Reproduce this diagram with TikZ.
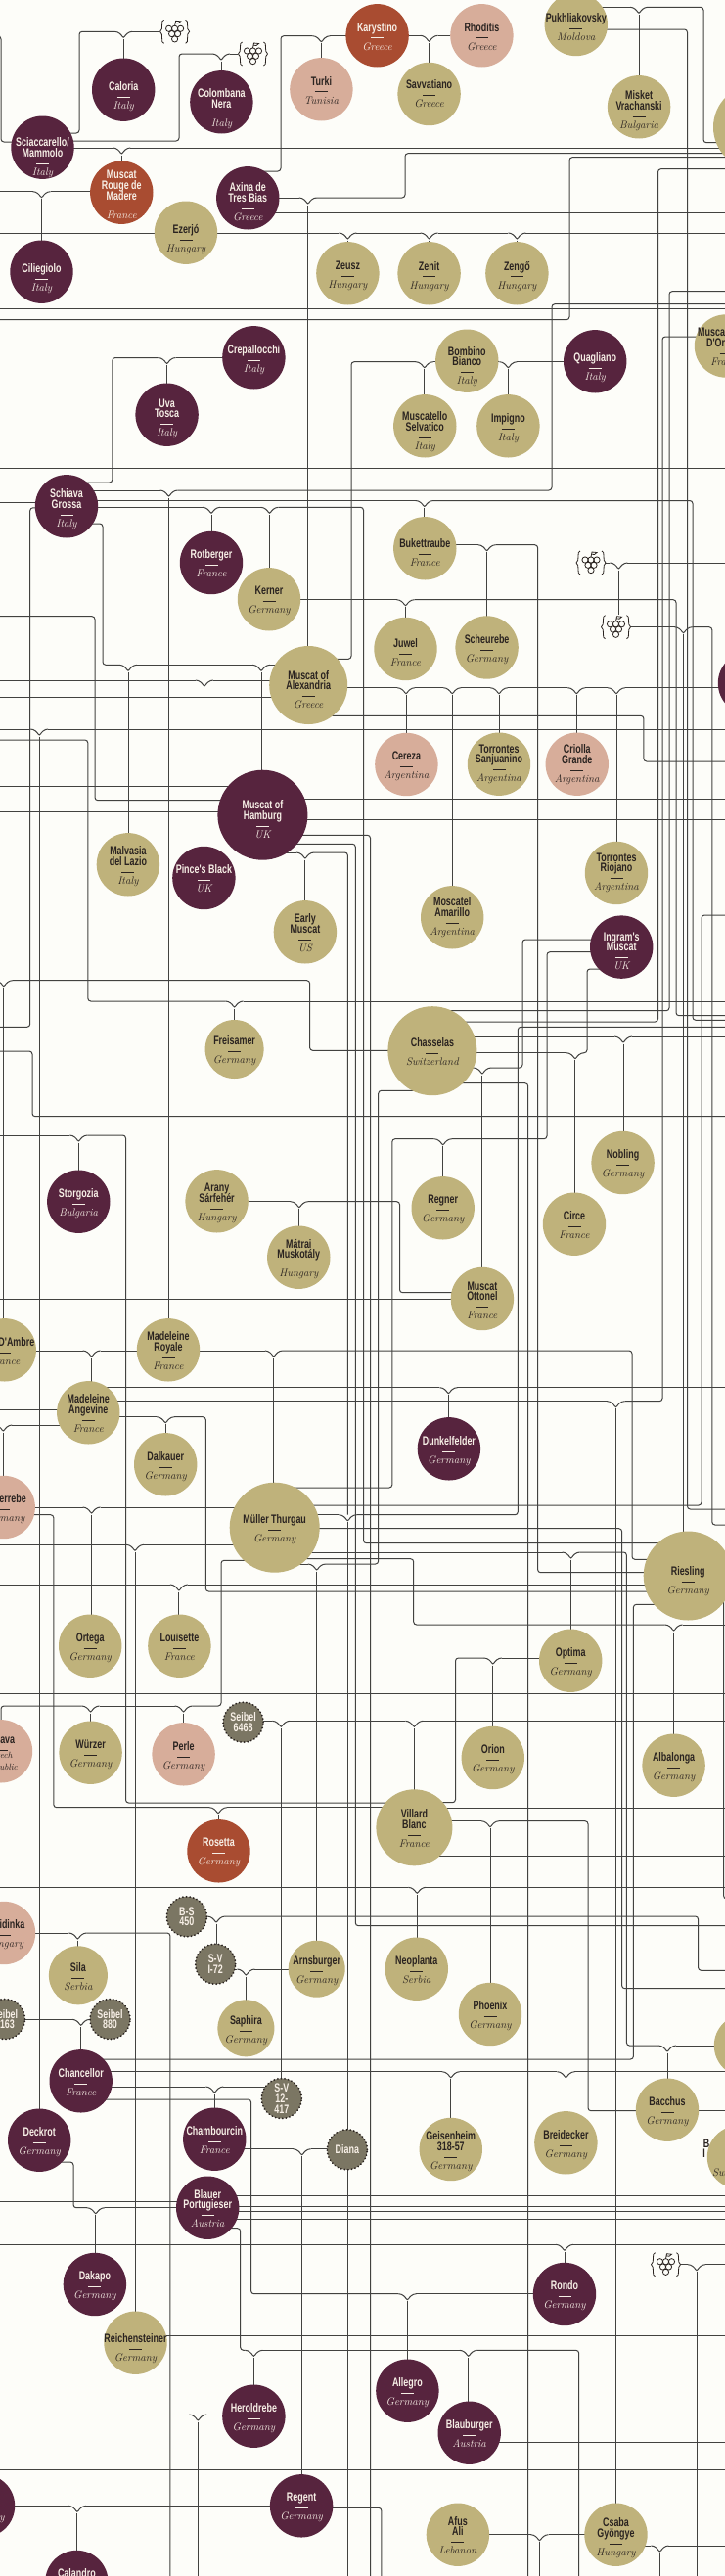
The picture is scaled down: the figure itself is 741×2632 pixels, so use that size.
\documentclass[tikz,border=0pt]{standalone}
\usepackage{fontspec}
\usepackage{xcolor}
\usepackage{tikz}
\usetikzlibrary{backgrounds}
\newfontfamily\vinefont[FakeStretch=0.72]{Liberation Sans}
\definecolor{paper}{HTML}{FDFDF9}
\definecolor{ink}{HTML}{2A2320}
\definecolor{cream}{HTML}{F7EFE6}
\definecolor{linegrey}{HTML}{424240}
\definecolor{straw}{HTML}{BFB27B}
\definecolor{plum}{HTML}{57243E}
\definecolor{rust}{HTML}{A94C31}
\definecolor{blush}{HTML}{D7AD9A}
\definecolor{slate}{HTML}{7B7663}
\newcommand{\zerobox}[1]{\setbox0=\hbox{#1}\ht0=0pt\dp0=0pt\hbox to 0pt{\hss\box0\hss}}
\newcommand{\vine}[3][0]{\zerobox{\raisebox{\dimexpr-4.8pt-#1pt\relax}{\parbox[c]{90pt}{\centering\lineskiplimit=-100pt
  {\vinefont\bfseries\fontsize{12.4}{10.8}\selectfont\rule{0pt}{8.3pt}#2\par}
  {\baselineskip=7.4pt\rule{13pt}{1pt}\par}
  {\fontsize{11}{11.6}\selectfont\itshape\addfontfeature{LetterSpace=3,FakeBold=0.4}#3\rule[-3pt]{0pt}{0pt}\par}}}}}
\newcommand{\seedling}[1]{\zerobox{\raisebox{-2.5pt}{\parbox[c]{60pt}{\centering\lineskiplimit=-100pt
  \vinefont\bfseries\fontsize{12.4}{10.8}\selectfont\rule{0pt}{8.3pt}#1\par}}}}
\newcommand{\fork}[3]{
  \coordinate (#1) at (#2,#3+7.5);
  \coordinate (#1-l) at (#2-9,#3);
  \coordinate (#1-r) at (#2+9,#3);
  \draw[wire] (#1-l) .. controls +(4,0) and +(-2,-4) .. (#1) .. controls +(2,-4) and +(-4,0) .. (#1-r);
}
\begin{document}
\begin{tikzpicture}[
  x=1pt,y=-1pt,
  wire/.style={draw=linegrey,line width=1pt,rounded corners=3pt},
  whitev/.style={circle,inner sep=0pt,minimum size=64.4pt,fill=straw,text=ink},
  redv/.style={whitev,fill=plum,text=cream},
  rustv/.style={whitev,fill=rust,text=cream},
  pinkv/.style={whitev,fill=blush,text=ink},
  seedv/.style={circle,inner sep=0pt,minimum size=41pt,fill=slate,text=cream,draw=ink,
                line width=2pt,line cap=round,dash pattern=on 0.01pt off 3.6pt},
  bunchv/.style={inner sep=0pt,minimum width=30pt,minimum height=25pt},
  bunch/.pic={
    \draw[ink,line width=0.8pt] (-11,-12) .. controls (-15,-12) and (-11,-2) .. (-15,0) .. controls (-11,2) and (-15,12) .. (-11,12);
    \draw[ink,line width=0.8pt] (11,-12) .. controls (15,-12) and (11,-2) .. (15,0) .. controls (11,2) and (15,12) .. (11,12);
    \foreach \px/\py in {-6/-3,0/-3,6/-3,-3/2.3,3/2.3,0/7.6}
      \draw[ink,line width=0.8pt] (\px,\py) circle (3.1);
    \draw[ink,line width=0.8pt] (0,-6) -- (1,-11) -- (6,-10.5) -- (3.5,-8.5) -- (1,-8.8);
  }
]
\path[use as bounding box,clip] (0,0) rectangle (741,2632);
\coordinate (W) at (0,0);
\coordinate (E) at (741,0);
\coordinate (S) at (0,2632);

\node[redv] (caloria) at (126.2,91.7) {\vine[4.7]{Caloria}{Italy}};
\node[redv] (colombana) at (226.4,104.3) {\vine[5]{Colombana\\Nera}{Italy}};
\node[redv] (sciac) at (43.5,150.7) {\vine[8.6]{Sciaccarello/\\Mammolo}{Italy}};
\node[rustv] (rouge) at (124.3,196.7) {\vine[1.4]{Muscat\\Rouge de\\Madere}{France}};
\node[redv] (axina) at (253.3,202.3) {\vine[3]{Axina de\\Tres Bias}{Greece}};
\node[whitev] (ezerjo) at (190,237.7) {\vine[4.7]{Ezerjó}{Hungary}};
\node[redv] (cilieg) at (42.5,277.7) {\vine[4.7]{Ciliegiolo}{Italy}};
\node[pinkv] (turki) at (328.4,91.3) {\vine{Turki}{Tunisia}};
\node[rustv] (karyst) at (385.6,36.3) {\vine{Karystino}{Greece}};
\node[pinkv] (rhodit) at (492.4,36.3) {\vine{Rhoditis}{Greece}};
\node[whitev] (savvat) at (438.6,96) {\vine[-1]{Savvatiano}{Greece}};
\node[whitev] (pukh) at (588.8,25) {\vine[1.9]{Pukhliakovsky}{Moldova}};
\node[whitev] (misket) at (653.1,109.3) {\vine[2.3]{Misket\\Vrachanski}{Bulgaria}};
\node[whitev,minimum size=87pt] (bigtop) at (772.5,130) {};
\node[whitev] (zeusz) at (355.4,279.3) {\vine[1]{Zeusz}{Hungary}};
\node[whitev] (zenit) at (438.6,279.3) {\vine[1]{Zenit}{Hungary}};
\node[whitev] (zengo) at (528.4,279.3) {\vine[1]{Zengő}{Hungary}};
\node[redv] (crepal) at (259.4,365.3) {\vine{Crepallocchi}{Italy}};
\node[redv] (uva) at (170.6,423.7) {\vine[2.3]{Uva\\Tosca}{Italy}};
\node[whitev] (bombino) at (477.3,368.7) {\vine[4]{Bombino\\Bianco}{Italy}};
\node[redv] (quagl) at (608.2,369.3) {\vine[4.7]{Quagliano}{Italy}};
\node[whitev] (muscsel) at (434.3,435.3) {\vine[4.3]{Muscatello\\Selvatico}{Italy}};
\node[whitev] (impigno) at (519.4,435.3) {\vine{Impigno}{Italy}};
\node[whitev] (dor) at (742,353.5) {\vine{Musca\hphantom{t Blanc}\\D'Or\hphantom{ange}}{France}};
\node[redv] (schiava) at (68,517.3) {\vine[1]{Schiava\\Grossa}{Italy}};
\node[redv] (rotberg) at (216,575) {\vine{Rotberger}{France}};
\node[whitev] (kerner) at (275,612.3) {\vine{Kerner}{Germany}};
\node[whitev] (bukett) at (434.3,560.3) {\vine[3]{Bukettraube}{France}};
\node[whitev] (juwel) at (414.5,663) {\vine[3]{Juwel}{France}};
\node[whitev] (scheur) at (497.6,661.5) {\vine{Scheurebe}{Germany}};
\node[whitev,minimum size=80pt] (alex) at (315.2,700) {\vine[3.6]{Muscat of\\Alexandria}{Greece}};
\node[pinkv] (cereza) at (415.4,781) {\vine{Cereza}{Argentina}};
\node[whitev] (torrsan) at (510,780.7) {\vine[-1.7]{Torrontes\\Sanjuanino}{Argentina}};
\node[pinkv] (criolla) at (589.8,780.7) {\vine[-1.7]{Criolla\\Grande}{Argentina}};
\node[redv,minimum size=92pt] (hamburg) at (268.4,832.7) {\vine[3.3]{Muscat of\\Hamburg}{UK}};
\node[whitev] (malvas) at (130.9,883.3) {\vine{Malvasia\\del Lazio}{Italy}};
\node[redv] (pince) at (208.4,897) {\vine{Pince's Black}{UK}};
\node[whitev] (early) at (311.9,952.3) {\vine{Early\\Muscat}{US}};
\node[whitev] (moscam) at (462.2,937.3) {\vine[-2]{Moscatel\\Amarillo}{Argentina}};
\node[whitev] (torrioj) at (630,892) {\vine[-2]{Torrontes\\Riojano}{Argentina}};
\node[redv] (ingram) at (635.2,967.6) {\vine[3.3]{Ingram's\\Muscat}{UK}};
\node[redv] (rightplum) at (766,698) {};
\node[whitev,minimum size=60pt] (freis) at (239.6,1072) {\vine{Freisamer}{Germany}};
\node[whitev,minimum size=91pt] (chass) at (441.9,1073.7) {\vine{Chasselas}{Switzerland}};
\node[redv] (storg) at (80.3,1227.7) {\vine{Storgozia}{Bulgaria}};
\node[whitev] (arany) at (221.6,1227.3) {\vine{Arany\\Sárfehér}{Hungary}};
\node[whitev] (matrai) at (305.3,1284.7) {\vine{Mátrai\\Muskotály}{Hungary}};
\node[whitev] (regner) at (452.7,1234.3) {\vine{Regner}{Germany}};
\node[whitev] (circe) at (587,1250.7) {\vine{Circe}{France}};
\node[whitev] (nobl) at (636.6,1188) {\vine{Nobling}{Germany}};
\node[whitev] (ottonel) at (492.9,1327) {\vine[1]{Muscat\\Ottonel}{France}};
\node[whitev] (ambre) at (4.7,1379.3) {\vine{\hphantom{Perle }D'Ambre}{France}};
\node[whitev] (royale) at (172,1379.3) {\vine{Madeleine\\Royale}{France}};
\node[whitev] (angev) at (90.3,1443.3) {\vine{Madeleine\\Angevine}{France}};
\node[whitev] (dalk) at (169.2,1496.3) {\vine{Dalkauer}{Germany}};
\node[redv] (dunkel) at (458.9,1480.3) {\vine{Dunkelfelder}{Germany}};
\node[pinkv] (sieger) at (3.7,1540) {\vine{Siegerrebe}{Germany}};
\node[whitev,minimum size=92pt] (muller) at (280.7,1560.7) {\vine{Müller Thurgau}{Germany}};
\node[whitev,minimum size=91pt] (ries) at (703.2,1610) {\vine[3.7]{Riesling}{Germany}};
\node[whitev] (ortega) at (92.2,1681.7) {\vine{Ortega}{Germany}};
\node[whitev] (louis) at (183.4,1681.7) {\vine{Louisette}{France}};
\node[whitev] (optima) at (583.2,1696.7) {\vine{Optima}{Germany}};
\node[seedv] (seib6468) at (248.6,1759.7) {\seedling{Seibel\\6468}};
\node[pinkv] (palava) at (1,1789.3) {\vine{Pálava}{{\fontsize{9}{8}\selectfont Czech\\Republic}}};
\node[whitev] (wurzer) at (92.6,1790.7) {\vine{Würzer}{Germany}};
\node[pinkv] (perle) at (187.6,1792.3) {\vine{Perle}{Germany}};
\node[whitev] (orion) at (503.8,1796) {\vine{Orion}{Germany}};
\node[whitev] (albal) at (688.6,1803.7) {\vine{Albalonga}{Germany}};
\node[whitev,minimum size=78pt] (villard) at (423.4,1867.3) {\vine{Villard\\Blanc}{France}};
\node[rustv] (rosetta) at (223.5,1891.3) {\vine{Rosetta}{Germany}};
\node[seedv] (bs450) at (190.9,1958.3) {\seedling{B-S\\450}};
\node[pinkv] (kovid) at (4,1975) {\vine{Kövidinka}{Hungary}};
\node[seedv] (sv172) at (220.2,2006.7) {\seedling{S-V\\I-72}};
\node[whitev,minimum size=58pt] (arns) at (323.7,2011.7) {\vine{Arnsburger}{Germany}};
\node[whitev] (neopl) at (425.8,2011.7) {\vine{Neoplanta}{Serbia}};
\node[whitev,minimum size=60pt] (sila) at (79.9,2018.3) {\vine{Sila}{Serbia}};
\node[whitev] (phoenix) at (501,2058) {\vine{Phoenix}{Germany}};
\node[whitev,minimum size=58pt] (saphira) at (251.4,2072.3) {\vine{Saphira}{Germany}};
\node[seedv] (seib880) at (112.5,2063) {\seedling{Seibel\\880}};
\node[seedv] (seib163) at (5,2063) {\seedling{Seibel\\5163}};
\node[redv] (chanc) at (82.7,2126.3) {\vine{Chancellor}{France}};
\node[seedv] (sv12) at (287.8,2144) {\seedling{S-V\\12-\\417}};
\node[redv] (chamb) at (219.3,2185.7) {\vine{Chambourcin}{France}};
\node[seedv] (diana) at (354.9,2196.3) {\seedling{Diana}};
\node[whitev] (bacch) at (682,2155.7) {\vine{Bacchus}{Germany}};
\node[whitev] (rightbz) at (755,2204) {\vine{B\hphantom{reitenbacher xx}\\I\hphantom{reitenbacher xxx}}{Switzerland}};
\node[whitev] (rightol) at (762,2090) {};
\node[redv] (deckrot) at (40.2,2186.7) {\vine{Deckrot}{Germany}};
\node[whitev] (geis) at (460.8,2196) {\vine{Geisenheim\\318-57}{Germany}};
\node[whitev] (breid) at (578.4,2189.3) {\vine{Breidecker}{Germany}};
\node[redv] (blauer) at (212.2,2255.7) {\vine{Blauer\\Portugieser}{Austria}};
\node[redv] (dakapo) at (96.9,2334) {\vine{Dakapo}{Germany}};
\node[whitev] (reich) at (138.5,2393.7) {\vine[3.7]{Reichensteiner}{Germany}};
\node[redv] (rondo) at (577,2344) {\vine{Rondo}{Germany}};
\node[redv] (herold) at (259.4,2468.7) {\vine{Heroldrebe}{Germany}};
\node[redv] (allegro) at (416.4,2442.7) {\vine{Allegro}{Germany}};
\node[redv] (blaub) at (479.7,2485.7) {\vine{Blauburger}{Austria}};
\node[redv] (regent) at (308.1,2560.3) {\vine{Regent}{Germany}};
\node[whitev] (afus) at (467.9,2589.7) {\vine{Afus\\Ali}{Lebanon}};
\node[whitev] (csaba) at (629.5,2589.7) {\vine[1.7]{Csaba\\Gyöngye}{Hungary}};
\node[redv] (domina) at (-17,2560.3) {\vine{Domina}{Germany}};
\node[redv] (calandro) at (78.4,2638) {\vine{Calandro}{Germany}};

\node[bunchv] (gr1) at (178.6,32.3) {};
\node[bunchv] (gr2) at (258.5,55) {};
\node[bunchv] (gr3) at (604,575) {};
\node[bunchv] (gr4) at (629.5,640.7) {};
\node[bunchv] (gr5) at (680.5,2313.7) {};
\foreach \g in {gr1,gr2,gr3,gr4,gr5}
  \pic at (\g) {bunch};

\begin{scope}[on background layer]
\fill[paper] (0,0) rectangle (741,2632);
\foreach \n/\x/\y in {fcal/126.2/32.3,fcol/226/55,frou/124.3/151,fcil/42.5/195.7,faxi/314.7/202,
  ftur/328.4/36.7,fsav/438.6/36.3,fmis/653/7.3,fzeu/355.4/238,fzen/438.6/238,fzeg/528.4/238,
  fuva/170.6/365.5,fsel/433.8/369.7,fimp/519.4/369.7,fmr/172.5/501,fbuk/433.8/511.5,
  frot/216/518.3,fker/275.5/518.3,fsch/497.6/556.7,fjuw/414.5/612.7,fgrc/632.3/575,fgrd/698.5/640.7,
  fmal/131/679.3,fham/267/679.3,fpin/208.9/695,fdeck/40.2/745,fcer/415/702.7,fmos/462.2/702.7,
  ftor/510/702.7,fcri/589.3/702.7,frio/630/702.7,fear/311.9/871,ffre/239.6/1023,famb/3.8/1001.7,
  fnob/637/1059,fcir/587.9/1075.7,fott/492.9/1091,freg/452.7/1163.7,fsto/80.3/1160,fmat/305.8/1227.7,
  fang/93.6/1380,fmul/279.8/1380,fdun/458.4/1417.7,fcsa/629.5/1431.7,fsie/3.3/1456,fdal/169.2/1447.7,
  fdia/355.4/1547.7,fort/93.6/1540,frei/138/1578.3,fopt/583.6/1586,farn/323.7/1598,flou/182.9/1619,
  falb/688.6/1660,fper/187.6/1743,fwur/92.6/1743,forb/503.8/1694,fsei/287.3/1758.3,fvil/423.4/1758.3,
  fros/223/1846.7,fpho/501/1860.7,fneo/426.3/1928.3,fsv/221/1958,fsil/79.4/1975,fsap/251.4/2012,
  fcha/82.7/2063.3,fgei/460.8/2116.7,fbre/578.4/2116.7,fcam/219.3/2132,fbac/682/2090,fgen/308.6/2195.7,
  fdak/97.8/2255.7,fron/577/2293.3,fall/416.4/2343.7,fher/259.4/2401.3,fbla/478.7/2401.3,fgre/712/2313.7,
  fhl/202.3/2467,fcln/78.9/2560.3,fafu/551.5/2589.7,fcsb/674.4/2601}
  {\fork{\n}{\x}{\y}}

\foreach \f/\c in {fcal/caloria,fcol/colombana,frou/rouge,fcil/cilieg,ftur/turki,fsav/savvat,fmis/misket,
  fzeu/zeusz,fzen/zenit,fzeg/zengo,fuva/uva,fsel/muscsel,fimp/impigno,fmr/royale,fbuk/bukett,frot/rotberg,
  fker/kerner,fsch/scheur,fjuw/juwel,fgrd/ries,fmal/malvas,fham/hamburg,fpin/pince,fdeck/deckrot,
  faxi/alex,fcer/cereza,fmos/moscam,ftor/torrsan,fcri/criolla,frio/torrioj,fear/early,ffre/freis,famb/ambre,
  fnob/nobl,fcir/circe,fott/ottonel,freg/regner,fsto/storg,fmat/matrai,fang/angev,fmul/muller,fdun/dunkel,
  fcsa/csaba,fsie/sieger,fdal/dalk,fort/ortega,frei/reich,fopt/optima,farn/arns,flou/louis,falb/albal,
  fper/perle,fwur/wurzer,forb/orion,fsei/sv12,fvil/villard,fros/rosetta,fpho/phoenix,fneo/neopl,fsv/sv172,
  fsil/sila,fsap/saphira,fcha/chanc,fgei/geis,fbre/breid,fcam/chamb,fbac/bacch,fgen/regent,fdak/dakapo,
  fron/rondo,fall/allegro,fher/herold,fbla/blaub,fcln/calandro}
  {\draw[wire] (\f) -- (\f |- \c);}
\foreach \f in {fdia,fgre,fhl,fafu,fcsb}
  {\draw[wire] (\f) -- (S -| \f);}
\draw[wire] (fgrc) -- (fgrc |- gr4.north);

\foreach \y in {315,478.3,1730.7,2523}
  {\draw[wire] (W |- 0,\y) -- (E |- 0,\y);}
\foreach \n/\y in {axina/217.3,hamburg/816,hamburg/837.3,villard/1847.7,villard/1896.7,bacch/2156.7,
  blauer/2243.3,blauer/2254,blauer/2259.3,blauer/2267.3,reich/2386.7,blaub/2495}
  {\draw[wire] (\n |- 0,\y) -- (E |- 0,\y);}
\foreach \n/\y in {ezerjo/238,schiava/513.3,alex/712.7,hamburg/803.3,hamburg/829.3,ottonel/1327.7,angev/1440,blauer/2249.3}
  {\draw[wire] (W |- 0,\y) -- (\n |- 0,\y);}
\foreach \f/\y in {fzeg/238,fgrc/575,fdeck/745,ffre/1023,fnob/1059,fdun/1417.7,falb/1660,fvil/1758.3,fneo/1928.3,fbre/2116.7,fron/2293.3,fgre/2313.7,fcsb/2601}
  {\draw[wire] (\f-r) -- (E |- 0,\y);}

\draw[wire] (W |- 0,37) -- (1,37) |- (sciac |- 0,145);
\draw[wire] (sciac |- 0,136) -| (81,32.3) -- (fcal-l);
\draw[wire] (fcal-r) -- (gr1.west);
\draw[wire] (sciac |- 0,144) -| (183,55) -- (fcol-l);
\draw[wire] (fcol-r) -- (gr2.west);
\draw[wire] (sciac |- 0,151) -- (frou-l);
\draw[wire] (frou-r) -- (bigtop |- 0,151);
\draw[wire] (rouge |- 0,195.7) -- (fcil-r);
\draw[wire] (fcil-l) -- (W |- 0,195.7);
\draw[wire] (axina |- 0,175) -| (287,36.7) -- (ftur-l);
\draw[wire] (ftur-r) -- (karyst |- 0,36.7);
\draw[wire] (karyst |- 0,36.3) -- (fsav-l);
\draw[wire] (fsav-r) -- (rhodit |- 0,36.3);
\draw[wire] (pukh |- 0,7.3) -- (fmis-l);
\draw[wire] (fmis-r) -| (719,145.7) -- (bigtop |- 0,145.7);
\draw[wire] (pukh |- 0,30) -| (702.5,1542) -- (E |- 0,1542);
\draw[wire] (axina |- 0,202) -- (faxi-l);
\draw[wire] (faxi-r) -| (414,156.7) -- (E |- 0,156.7);
\draw[wire] (ezerjo |- 0,238) -- (fzeu-l);
\draw[wire] (fzeu-r) -- (fzen-l);
\draw[wire] (fzen-r) -- (fzeg-l);
\draw[wire] (W |- 0,326.7) -| (582,160.7) -- (E |- 0,160.7);
\draw[wire] (E |- 0,172.7) -| (672.5,1044) -- (chass |- 0,1044);
\draw[wire] (E |- 0,297.7) -| (684,1032.7) -- (chass |- 0,1032.7);
\draw[wire] (E |- 0,310.7) -| (564,501) -- (fmr-r);
\draw[wire] (fmr-l) -- (schiava |- 0,501);
\draw[wire] (crepal |- 0,365.5) -- (fuva-r);
\draw[wire] (fuva-l) -| (114.8,493) -- (schiava |- 0,493);
\draw[wire] (alex |- 0,673.3) -| (359,369.7) -- (fsel-l);
\draw[wire] (fsel-r) -- (bombino |- 0,369.7);
\draw[wire] (bombino |- 0,369.7) -- (fimp-l);
\draw[wire] (fimp-r) -- (quagl |- 0,369.7);
\draw[wire] (schiava |- 0,511.5) -- (fbuk-l);
\draw[wire] (fbuk-r) -| (708,1042.3) -- (E |- 0,1042.3);
\draw[wire] (schiava |- 0,518.3) -- (frot-l);
\draw[wire] (frot-r) -- (fker-l);
\draw[wire] (fker-r) -| (371.5,1576.7) -- (ries |- 0,1576.7);
\draw[wire] (schiava |- 0,518.8) -| (30.7,1049.3) -- (W |- 0,1049.3);
\draw[wire] (schiava |- 0,535) -| (105,679.3) -- (fmal-l);
\draw[wire] (fmal-r) -- (fham-l);
\draw[wire] (fham-r) -- (alex |- 0,679.3);
\draw[wire] (W |- 0,629.7) -| (97,817.7) -- (hamburg |- 0,817.7);
\draw[wire] (bukett |- 0,556.7) -- (fsch-l);
\draw[wire] (fsch-r) -| (549.6,1606.7) -- (ries |- 0,1606.7);
\draw[wire] (kerner |- 0,612.7) -- (fjuw-l);
\draw[wire] (fjuw-r) -| (691,1037.7) -- (E |- 0,1037.7);
\draw[wire] (gr3.east) -- (fgrc-l);
\draw[wire] (gr4.east) -- (fgrd-l);
\draw[wire] (fgrd-r) -| (727.8,1558) -- (E |- 0,1558);
\draw[wire] (dor |- 0,344) -| (677,1431.7) -- (fcsa-r);
\draw[wire] (fcsa-l) -- (angev |- 0,1431.7);
\draw[wire] (W |- 0,695) -- (fpin-l);
\draw[wire] (fpin-r) -- (alex |- 0,695);
\draw[wire] (W |- 0,745) -- (fdeck-l);
\draw[wire] (W |- 0,756) -| (89.8,1023) -- (ffre-l);
\draw[wire] (alex |- 0,702.7) -- (fcer-l);
\draw[wire] (fcer-r) -- (fmos-l);
\draw[wire] (fmos-r) -- (ftor-l);
\draw[wire] (ftor-r) -- (fcri-l);
\draw[wire] (fcri-r) -- (frio-l);
\draw[wire] (frio-r) -- (rightplum |- 0,702.7);
\draw[wire] (alex |- 0,731.3) -| (657.9,778) -- (E |- 0,778);
\draw[wire] (hamburg |- 0,853.3) -| (S -| 378.5,0);
\draw[wire] (hamburg |- 0,862.3) -| (363.3,1967.7) -- (E |- 0,1967.7);
\draw[wire] (hamburg |- 0,871) -- (fear-l);
\draw[wire] (fear-r) -| (355.4,1547.7);
\draw[wire] (W |- 0,1001.7) -- (famb-l);
\draw[wire] (famb-r) -| (316.6,1073.3) -- (chass |- 0,1073.3);
\draw[wire] (W |- 0,1074) -| (33,1140.7) -- (E |- 0,1140.7);
\draw[wire] (chass |- 0,1059) -- (fnob-l);
\draw[wire] (chass |- 0,1075.7) -- (fcir-l);
\draw[wire] (fcir-r) -| (600,990) -- (ingram |- 0,990);
\draw[wire] (chass |- 0,1091) -- (fott-l);
\draw[wire] (fott-r) -| (534,960) -- (ingram |- 0,960);
\draw[wire] (ingram |- 0,972.7) -| (559,1163.7) -- (freg-r);
\draw[wire] (freg-l) -| (400.8,1520) -- (muller |- 0,1520);
\draw[wire] (chass |- 0,1106.7) -| (S -| 539.7,0);
\draw[wire] (chass |- 0,1114.3) -| (386.7,1598) -- (farn-r);
\draw[wire] (farn-l) -- (muller |- 0,1598);
\draw[wire] (E |- 0,1049.3) -| (529.3,1547.7) -- (fdia-r);
\draw[wire] (fdia-l) -- (muller |- 0,1547.7);
\draw[wire] (W |- 0,1160) -- (fsto-l);
\draw[wire] (fsto-r) -| (128.5,1842) -- (villard |- 0,1842);
\draw[wire] (arany |- 0,1227.7) -- (fmat-l);
\draw[wire] (fmat-r) -| (408.5,1320.7) -- (ottonel |- 0,1320.7);
\draw[wire] (ambre |- 0,1380) -- (fang-l);
\draw[wire] (fang-r) -- (royale |- 0,1380);
\draw[wire] (royale |- 0,1380) -- (fmul-l);
\draw[wire] (fmul-r) -| (646,1593.3) -- (ries |- 0,1593.3);
\draw[wire] (angev |- 0,1417.7) -- (fdun-l);
\draw[wire] (angev |- 0,1456) -- (fsie-r);
\draw[wire] (angev |- 0,1447.7) -- (fdal-l);
\draw[wire] (fdal-r) -| (210.3,1626) -- (ries |- 0,1626);
\draw[wire] (sieger |- 0,1540) -- (fort-l);
\draw[wire] (fort-r) -- (muller |- 0,1540);
\draw[wire] (sieger |- 0,1547.7) -| (54.8,1846.7) -- (fros-l);
\draw[wire] (fros-r) -- (villard |- 0,1846.7);
\draw[wire] (W |- 0,1578.3) -- (frei-l);
\draw[wire] (frei-r) -- (muller |- 0,1578.3);
\draw[wire] (W |- 0,1619) -- (flou-l);
\draw[wire] (flou-r) -- (ries |- 0,1619);
\draw[wire] (muller |- 0,1538) -| (717,935) -- (E |- 0,935);
\draw[wire] (muller |- 0,1561.7) -| (635.6,2031.7) -- (E |- 0,2031.7);
\draw[wire] (muller |- 0,1586) -- (fopt-l);
\draw[wire] (fopt-r) -| (640.4,2090) -- (fbac-l);
\draw[wire] (fbac-r) -- (rightol |- 0,2090);
\draw[wire] (muller |- 0,1592.7) -| (422.7,1660) -- (falb-l);
\draw[wire] (muller |- 0,1594.3) -| (226,1743) -- (fper-r);
\draw[wire] (fper-l) -- (fwur-r);
\draw[wire] (fwur-l) -| (palava.center);
\draw[wire] (ries |- 0,1639.3) -| (647.4,2104) -- (chanc |- 0,2104);
\draw[wire] (ries -| 739.6,0) |- (E |- 0,1940);
\draw[wire] (seib6468 |- 0,1758.3) -- (fsei-l);
\draw[wire] (fsei-r) -- (fvil-l);
\draw[wire] (optima |- 0,1694) -- (forb-r);
\draw[wire] (forb-l) -| (465.5,1841.7) -- (villard |- 0,1841.7);
\draw[wire] (villard |- 0,1860.7) -- (fpho-l);
\draw[wire] (fpho-r) -| (601,2156.7) -- (bacch |- 0,2156.7);
\draw[wire] (W |- 0,1928.3) -- (fneo-l);
\draw[wire] (bs450 |- 0,1958) -- (fsv-l);
\draw[wire] (fsv-r) -| (713.6,2013.3) -- (E |- 0,2013.3);
\draw[wire] (kovid |- 0,1975) -- (fsil-l);
\draw[wire] (fsil-r) -| (S -| 173.9,0);
\draw[wire] (sv172 |- 0,2012) -- (fsap-l);
\draw[wire] (fsap-r) -- (arns |- 0,2012);
\draw[wire] (seib163 |- 0,2063.3) -- (fcha-l);
\draw[wire] (fcha-r) -- (seib880 |- 0,2063.3);
\draw[wire] (chanc |- 0,2116.7) -- (fgei-l);
\draw[wire] (fgei-r) -- (fbre-l);
\draw[wire] (chanc |- 0,2132) -- (fcam-l);
\draw[wire] (fcam-r) -- (sv12 |- 0,2132);
\draw[wire] (chanc |- 0,2145) -| (256.6,2343.7) -- (fall-l);
\draw[wire] (fall-r) -- (rondo |- 0,2343.7);
\draw[wire] (chamb |- 0,2195.7) -- (fgen-l);
\draw[wire] (fgen-r) -- (diana |- 0,2195.7);
\draw[wire] (deckrot |- 0,2209) -| (75,2255.7) -- (fdak-l);
\draw[wire] (fdak-r) -- (blauer |- 0,2255.7);
\draw[wire] (blauer |- 0,2276.7) -| (245.7,2401.3) -- (fher-l);
\draw[wire] (fher-r) -- (fbla-l);
\draw[wire] (fbla-r) -| (S -| 591.7,0);
\draw[wire] (W |- 0,2293.3) -- (fron-l);
\draw[wire] (gr5.east) -- (fgre-l);
\draw[wire] (W |- 0,2467) -- (fhl-l);
\draw[wire] (fhl-r) -- (herold |- 0,2467);
\draw[wire] (domina |- 0,2560.3) -- (fcln-l);
\draw[wire] (fcln-r) -- (regent |- 0,2560.3);
\draw[wire] (regent |- 0,2562.3) -| (S -| 389.9,0);
\draw[wire] (afus |- 0,2589.7) -- (fafu-l);
\draw[wire] (fafu-r) -- (csaba |- 0,2589.7);
\draw[wire] (csaba |- 0,2601) -- (fcsb-l);
\end{scope}
\end{tikzpicture}
\end{document}
